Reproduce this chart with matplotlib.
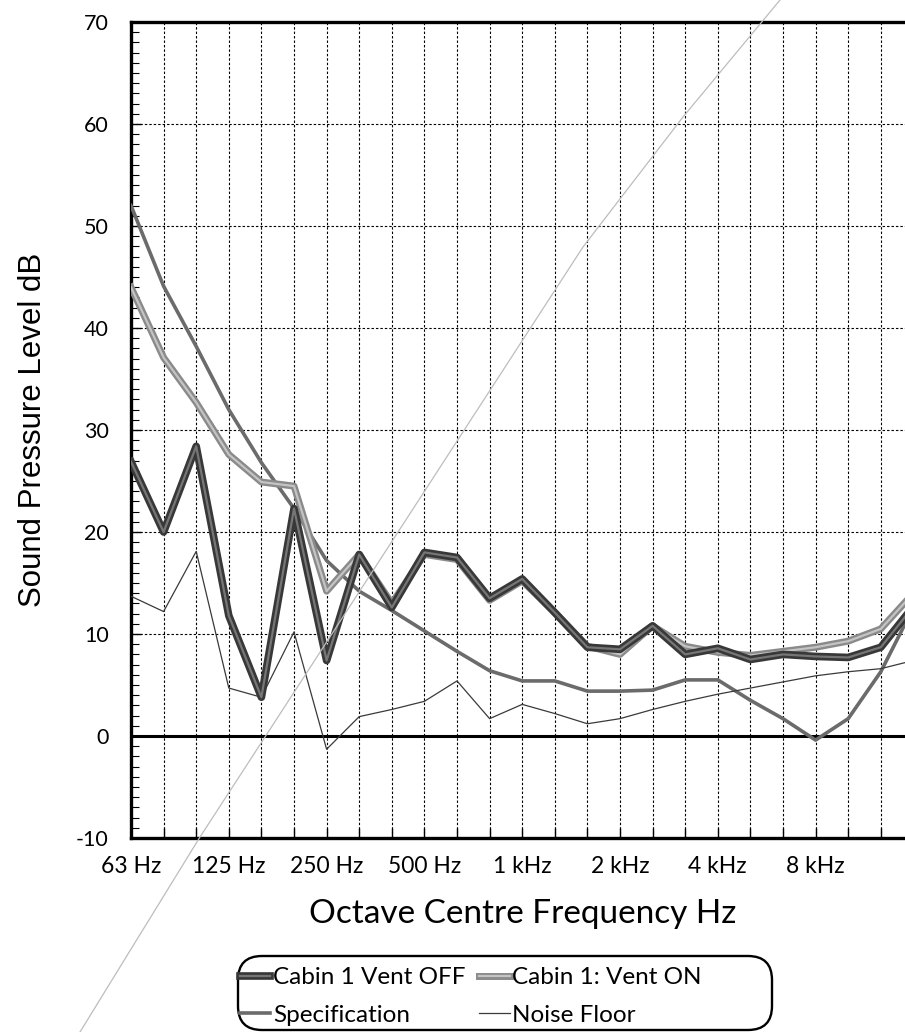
import matplotlib
matplotlib.use("Agg")
import matplotlib.pyplot as plt
import matplotlib.patheffects as pe
from matplotlib.lines import Line2D
from matplotlib.patches import FancyBboxPatch
from matplotlib.transforms import IdentityTransform
from matplotlib.ticker import MultipleLocator

# ---- data (one-third-octave bands, 63 Hz .. 16 kHz) ----
bands = ["63", "80", "100", "125", "160", "200", "250", "315", "400", "500",
         "630", "800", "1k", "1.25k", "1.6k", "2k", "2.5k", "3.15k", "4k",
         "5k", "6.3k", "8k", "10k", "12.5k", "16k"]
octave_labels = {0: "63 Hz", 3: "125 Hz", 6: "250 Hz", 9: "500 Hz", 12: "1 kHz",
                 15: "2 kHz", 18: "4 kHz", 21: "8 kHz"}

vent_off = [26.9, 20.0, 28.4, 11.8, 3.8, 22.3, 7.4, 17.8, 12.6, 18.0, 17.5, 13.5,
            15.4, 12.1, 8.7, 8.5, 10.8, 8.0, 8.6, 7.5, 8.0, 7.8, 7.7, 8.7, 12.7]
vent_on = [44.0, 37.1, 32.7, 27.6, 24.9, 24.5, 14.2, 17.8, 13.0, 17.8, 17.3, 13.3,
           15.2, 12.1, 8.8, 8.0, 10.8, 8.8, 8.2, 7.9, 8.3, 8.7, 9.3, 10.5, 14.0]
specification = [52.0, 44.1, 38.2, 32.0, 26.8, 22.3, 17.2, 14.2, 12.3, 10.3, 8.3, 6.4,
                 5.4, 5.4, 4.4, 4.4, 4.5, 5.5, 5.5, 3.5, 1.7, -0.4, 1.7, 6.3, 12.6]
noise_floor = [13.7, 12.2, 18.1, 4.7, 3.8, 10.2, -1.3, 1.9, 2.6, 3.4, 5.4, 1.7,
               3.1, 2.2, 1.2, 1.7, 2.6, 3.4, 4.1, 4.7, 5.3, 5.9, 6.3, 6.6, 7.4]

x = list(range(len(bands)))

W, H = 905, 1032
fig = plt.figure(figsize=(W / 100, H / 100), dpi=100)
fig.patch.set_facecolor("white")

x0_px, step_px = 131, 32.6
top_px, bot_px = 22, 838
ax = fig.add_axes([x0_px / W, 1 - bot_px / H, 24 * step_px / W, (bot_px - top_px) / H])

ax.set_xlim(0, 24)
ax.set_ylim(-10, 70)

TICKFONT = ["Lato", "DejaVu Sans"]

# ticks and grid
ax.set_xticks(x)
ax.set_xticklabels([octave_labels.get(i, "") for i in x], family=TICKFONT, fontsize=16.5)
ax.yaxis.set_major_locator(MultipleLocator(10))
ax.yaxis.set_minor_locator(MultipleLocator(1))
ax.set_yticklabels([f"{int(v)}" for v in ax.get_yticks()], family=TICKFONT, fontsize=15.5)
ax.grid(True, which="major", color="black", linestyle=(0, (2.2, 1.8)), linewidth=0.8)
ax.tick_params(axis="x", direction="in", length=7, width=1, pad=13, colors="black")
ax.tick_params(axis="y", which="major", direction="in", length=7, width=1, pad=16)
ax.tick_params(axis="y", which="minor", direction="in", length=6, width=0.8)

for s in ["left", "bottom", "top"]:
    ax.spines[s].set_linewidth(2.4)
    ax.spines[s].set_color("black")
ax.spines["right"].set_visible(False)

ax.axhline(0, color="black", linewidth=2.2, zorder=2)

# lines
ax.plot(x, specification, color="#6b6b6b", linewidth=2.6, label="Specification", zorder=3)
ax.plot(x, noise_floor, color="#3a3a3a", linewidth=0.9, label="Noise Floor", zorder=3)
ax.plot(x, vent_on, color="#c4c4c4", linewidth=1.6, label="Cabin 1: Vent ON", zorder=4,
        path_effects=[pe.Stroke(linewidth=5, foreground="#8a8a8a"), pe.Normal()])
ax.plot(x, vent_off, color="#767676", linewidth=1.6, label="Cabin 1 Vent OFF", zorder=5,
        path_effects=[pe.Stroke(linewidth=5.5, foreground="#383838"), pe.Normal()])

ax.set_xlabel("Octave Centre Frequency Hz", family=TICKFONT, fontsize=24, labelpad=16)
ax.set_ylabel("Sound Pressure Level dB", family=["Liberation Sans", "DejaVu Sans"],
              fontsize=22.5, labelpad=20)

handles, labels = ax.get_legend_handles_labels()
order = [labels.index("Cabin 1 Vent OFF"), labels.index("Specification"),
         labels.index("Cabin 1: Vent ON"), labels.index("Noise Floor")]
leg = fig.legend([handles[i] for i in order], [labels[i] for i in order],
                 loc="upper left", bbox_to_anchor=(240 / W, 1 - 967 / H),
                 ncol=2, prop={"family": TICKFONT, "size": 17.5},
                 handlelength=1.25, handletextpad=0.12, columnspacing=0.55,
                 borderaxespad=0, borderpad=0, labelspacing=0.68,
                 frameon=False)

# rounded legend frame (drawn in pixel space so the corners stay circular)
fig.add_artist(FancyBboxPatch((238, H - 1030), 534, 74,
                              boxstyle="round,pad=0,rounding_size=24",
                              transform=IdentityTransform(), fill=False,
                              edgecolor="black", linewidth=1.7))

# faint diagonal scan artefact crossing the page
art_x = [80, 200, 265, 583, 683, 780]
art_y = [1032, 837, 737, 247, 117, 0]
fig.add_artist(Line2D([v / W for v in art_x], [1 - v / H for v in art_y],
                      transform=fig.transFigure, color="#bdbdbd", linewidth=0.9, zorder=1))

fig.savefig("out.png", dpi=100, facecolor="white")
